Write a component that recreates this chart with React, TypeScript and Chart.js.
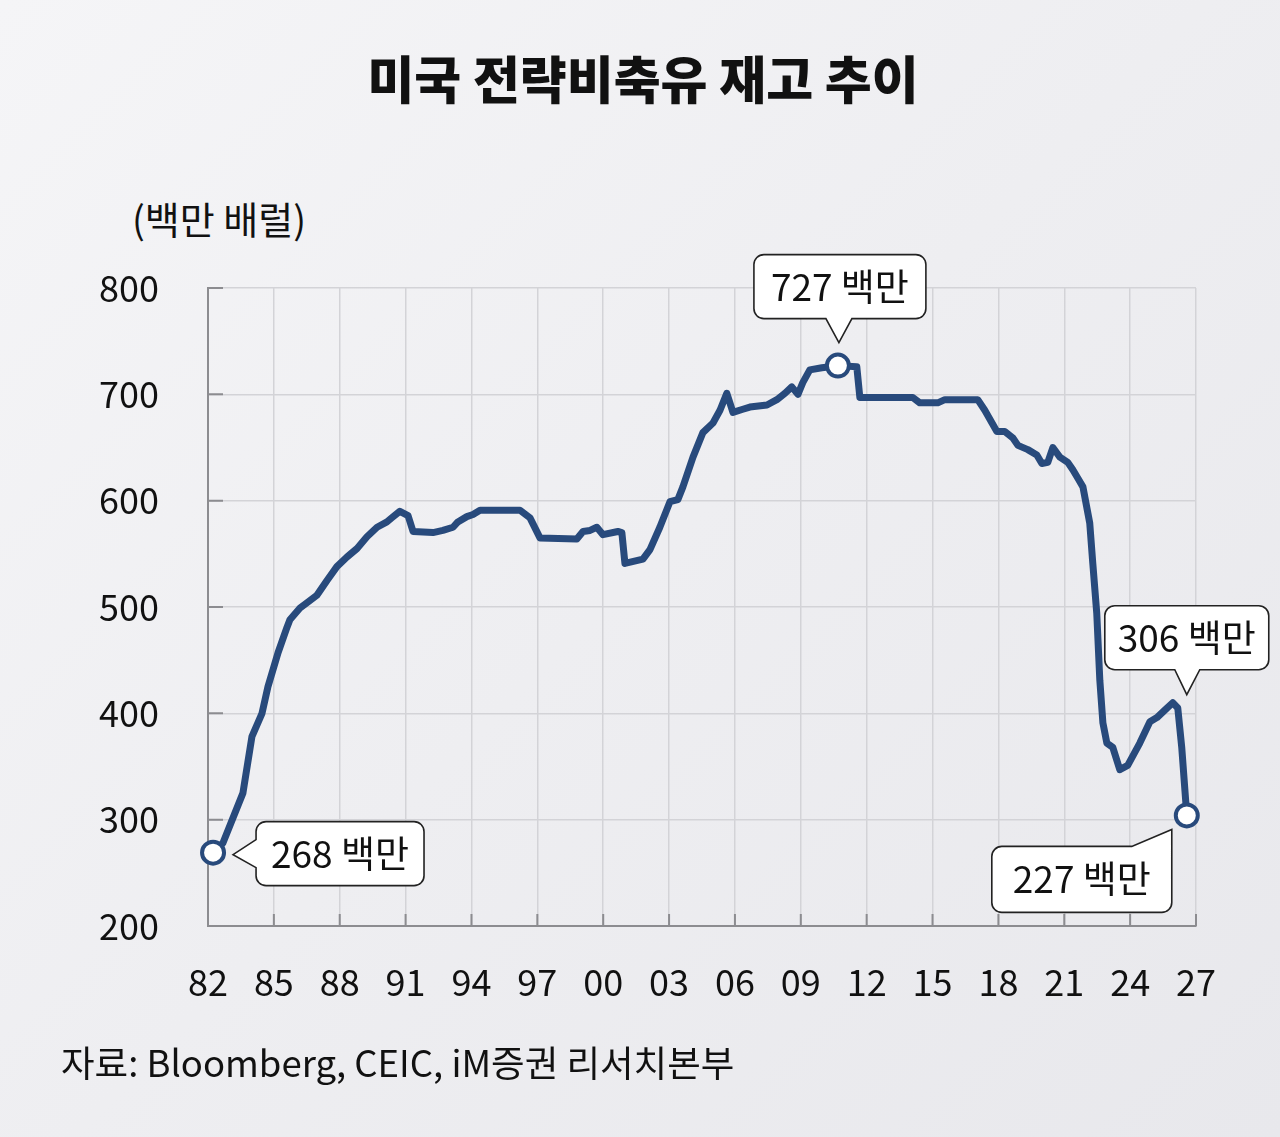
import React, { useEffect, useRef } from 'react';
import { Chart, registerables } from 'chart.js';

Chart.register(...registerables);

const FONT = "'Noto Sans CJK KR', 'Noto Sans', sans-serif";

// decimal year of each reading
const years = [
  1982.23, 1982.68, 1983.59, 1984.0, 1984.46, 1984.73, 1984.96, 1985.19, 1985.6, 1985.73,
  1986.19, 1986.51, 1986.96, 1987.42, 1987.87, 1988.33, 1988.79, 1989.24, 1989.7, 1990.15,
  1990.38, 1990.74, 1991.11, 1991.34, 1992.25, 1992.7, 1993.16, 1993.38, 1993.79, 1994.07,
  1994.39, 1996.21, 1996.66, 1997.12, 1998.8, 1999.08, 1999.4, 1999.71, 1999.99, 2000.67,
  2000.85, 2000.99, 2001.81, 2002.13, 2002.58, 2003.04, 2003.4, 2003.63, 2004.09, 2004.54,
  2005.0, 2005.32, 2005.63, 2005.91, 2006.36, 2006.68, 2007.46, 2007.91, 2008.28, 2008.59,
  2008.87, 2009.09, 2009.41, 2009.96, 2010.32, 2010.69, 2011.55, 2011.69, 2014.1, 2014.42,
  2015.24, 2015.56, 2017.06, 2017.38, 2017.93, 2018.29, 2018.66, 2018.89, 2019.34, 2019.75,
  2019.98, 2020.25, 2020.48, 2020.8, 2021.16, 2021.39, 2021.62, 2021.85, 2022.16, 2022.3,
  2022.48, 2022.62, 2022.76, 2022.94, 2023.21, 2023.53, 2023.89, 2024.44, 2024.9, 2025.22,
  2025.58, 2025.94, 2026.17, 2026.35, 2026.58,
];

// SPR stock, million barrels
const stock = [
  269, 278, 325, 378, 400, 425, 441, 457, 481, 488,
  499, 504, 511, 525, 538, 547, 555, 566, 575, 580,
  584, 590, 586, 571, 570, 572, 575, 580, 585, 587,
  591, 591, 584, 565, 564, 571, 572, 575, 568, 571,
  570, 541, 545, 554, 575, 599, 601, 613, 641, 664,
  673, 685, 701, 683, 686, 688, 690, 695, 701, 707,
  700, 711, 723, 725, 726, 727, 726, 697, 697, 692,
  692, 695, 695, 685, 665, 665, 659, 652, 648, 643,
  635, 636, 650, 641, 636, 629, 621, 613, 579, 541,
  494, 431, 391, 372, 368, 347, 351, 372, 392, 396,
  403, 410, 405, 368, 304,
];

const yTicks = [200, 300, 400, 500, 600, 700, 800];
const xTickYears = [1982, 1985, 1988, 1991, 1994, 1997, 2000, 2003, 2006, 2009, 2012, 2015, 2018, 2021, 2024, 2027];
const xTickLabels = ['82', '85', '88', '91', '94', '97', '00', '03', '06', '09', '12', '15', '18', '21', '24', '27'];

const calloutTexts = ['268 백만', '727 백만', '306 백만', '227 백만'];

const titleText = '미국 전략비축유 재고 추이';
const unitText = '(백만 배럴)';
const sourceText = '자료: Bloomberg, CEIC, iM증권 리서치본부';

const LINE = '#284a7c';

type P = [number, number, number];
function roundPoly(ctx: CanvasRenderingContext2D, pts: P[]) {
  const n = pts.length;
  const a = pts[n - 1];
  const b = pts[0];
  ctx.beginPath();
  ctx.moveTo((a[0] + b[0]) / 2, (a[1] + b[1]) / 2);
  for (let i = 0; i < n; i++) {
    const p = pts[i];
    const q = pts[(i + 1) % n];
    ctx.arcTo(p[0], p[1], q[0], q[1], p[2]);
  }
  ctx.closePath();
}

export default function App() {
  const ref = useRef<HTMLCanvasElement>(null);

  useEffect(() => {
    document.body.style.margin = '0';
    const iStart = 0;
    const iPeak = stock.indexOf(Math.max(...stock));
    const iEnd = stock.length - 1;
    let iLocal = iEnd;
    for (let i = 0; i < stock.length; i++) {
      if (years[i] >= 2024 && (iLocal === iEnd || stock[i] > stock[iLocal])) iLocal = i;
    }
    const markers = [iStart, iPeak, iEnd];

    const innerTicks = {
      id: 'innerTicks',
      beforeDatasetsDraw(chart: any) {
        const { ctx, chartArea, scales } = chart;
        ctx.save();
        ctx.strokeStyle = '#8c8c90';
        ctx.lineWidth = 2;
        ctx.beginPath();
        yTicks.forEach((v) => {
          const y = scales.y.getPixelForValue(v);
          ctx.moveTo(chartArea.left, y);
          ctx.lineTo(chartArea.left + 15, y);
        });
        xTickYears.forEach((v) => {
          const x = scales.x.getPixelForValue(v);
          ctx.moveTo(x, chartArea.bottom);
          ctx.lineTo(x, chartArea.bottom - 12);
        });
        ctx.stroke();
        ctx.restore();
      },
    };

    const callouts = {
      id: 'callouts',
      afterDatasetsDraw(chart: any) {
        const { ctx, scales } = chart;
        const px = (i: number) => scales.x.getPixelForValue(years[i]);
        const py = (i: number) => scales.y.getPixelForValue(stock[i]);
        ctx.save();
        ctx.font = `37px ${FONT}`;
        const H = 64;
        const R = 10;
        const draw = (pts: P[], cx: number, cy: number, text: string) => {
          roundPoly(ctx, pts);
          ctx.fillStyle = '#ffffff';
          ctx.fill();
          ctx.strokeStyle = '#222222';
          ctx.lineWidth = 1.6;
          ctx.stroke();
          ctx.fillStyle = '#111111';
          ctx.textAlign = 'center';
          ctx.textBaseline = 'middle';
          ctx.fillText(text, cx, cy);
        };
        // 1: start, pointer left
        {
          const x0 = px(iStart), y0 = py(iStart);
          const w = ctx.measureText(calloutTexts[0]).width + 30;
          const L = x0 + 43, T = y0 - 31, Rr = L + w, B = T + H;
          draw([[L, T, R], [Rr, T, R], [Rr, B, R], [L, B, R], [L, y0 + 15, 0], [x0 + 20, y0 + 2, 0], [L, y0 - 13, 0]], (L + Rr) / 2, (T + B) / 2, calloutTexts[0]);
        }
        // 2: peak, pointer bottom
        {
          const x0 = px(iPeak), y0 = py(iPeak);
          const w = ctx.measureText(calloutTexts[1]).width + 34;
          const cx = x0 + 2;
          const L = cx - w / 2, Rr = cx + w / 2, B = y0 - 47, T = B - H;
          draw([[L, T, R], [Rr, T, R], [Rr, B, R], [x0 + 14, B, 0], [x0 + 1, y0 - 23, 0], [x0 - 12, B, 0], [L, B, R]], cx, (T + B) / 2, calloutTexts[1]);
        }
        // 3: local high, pointer bottom
        {
          const x0 = px(iEnd), y0 = py(iLocal);
          const w = ctx.measureText(calloutTexts[2]).width + 26;
          const cx = x0;
          const L = cx - w / 2, Rr = cx + w / 2, B = y0 - 33, T = B - H;
          draw([[L, T, R], [Rr, T, R], [Rr, B, R], [cx + 13, B, 0], [cx, y0 - 8, 0], [cx - 12, B, 0], [L, B, R]], cx, (T + B) / 2, calloutTexts[2]);
        }
        // 4: end, pointer top-right
        {
          const x0 = px(iEnd), y0 = py(iEnd);
          const w = ctx.measureText(calloutTexts[3]).width + 42;
          const Rr = x0 - 15, L = Rr - w, T = y0 + 31, B = T + H + 2;
          draw([[L, T, R], [Rr - 40, T, 0], [Rr, y0 + 14, 0], [Rr, B, R], [L, B, R]], (L + Rr) / 2, (T + B) / 2, calloutTexts[3]);
        }
        ctx.restore();
      },
    };

    const chart = new Chart(ref.current as HTMLCanvasElement, {
      type: 'line',
      data: {
        datasets: [
          {
            data: years.map((x, i) => ({ x, y: stock[i] })),
            borderColor: LINE,
            borderWidth: 7,
            tension: 0,
            borderJoinStyle: 'round',
            borderCapStyle: 'round',
            pointRadius: (c: any) => (markers.includes(c.dataIndex) ? 11 : 0),
            pointHoverRadius: (c: any) => (markers.includes(c.dataIndex) ? 11 : 0),
            pointBackgroundColor: '#ffffff',
            pointBorderColor: LINE,
            pointBorderWidth: 4,
            clip: 20,
          } as any,
        ],
      },
      options: {
        animation: false,
        responsive: false,
        devicePixelRatio: 1,
        events: [],
        layout: { padding: { top: 288, right: 84, left: 0, bottom: 0 } },
        plugins: { legend: { display: false }, tooltip: { enabled: false }, title: { display: false } },
        scales: {
          x: {
            type: 'linear',
            min: 1982,
            max: 2027,
            afterBuildTicks: (s: any) => {
              s.ticks = xTickYears.map((v) => ({ value: v }));
            },
            afterFit: (s: any) => {
              s.height = 211;
            },
            ticks: {
              autoSkip: false,
              maxRotation: 0,
              padding: 35,
              color: '#111111',
              font: { family: FONT, size: 36 },
              callback: (v: any) => xTickLabels[xTickYears.indexOf(v)] ?? '',
            },
            grid: { color: '#d3d3d7', lineWidth: 1.5, drawTicks: false },
            border: { display: true, color: '#8c8c90', width: 2 },
          },
          y: {
            type: 'linear',
            min: 200,
            max: 800,
            afterBuildTicks: (s: any) => {
              s.ticks = yTicks.map((v) => ({ value: v }));
            },
            afterFit: (s: any) => {
              s.width = 208;
            },
            ticks: {
              padding: 49,
              color: '#111111',
              font: { family: FONT, size: 36 },
              callback: (v: any) => String(v),
            },
            grid: { color: '#d3d3d7', lineWidth: 1.5, drawTicks: false },
            border: { display: true, color: '#8c8c90', width: 2 },
          },
        },
      },
      plugins: [innerTicks, callouts],
    });
    return () => chart.destroy();
  }, []);

  return (
    <div
      style={{
        position: 'absolute',
        left: 0,
        top: 0,
        width: 1280,
        height: 1137,
        overflow: 'hidden',
        background: 'linear-gradient(135deg, #f5f5f7 0%, #eeeef1 50%, #e8e8ec 100%)',
        fontFamily: FONT,
        color: '#111111',
      }}
    >
      <div
        style={{
          position: 'absolute',
          left: 0,
          width: 1286,
          top: 47,
          textAlign: 'center',
          fontSize: 51,
          lineHeight: '60px',
          fontWeight: 900,
        }}
      >
        {titleText}
      </div>
      <div style={{ position: 'absolute', left: 132, top: 195, fontSize: 38, lineHeight: '46px' }}>{unitText}</div>
      <canvas ref={ref} width={1280} height={1137} style={{ position: 'absolute', left: 0, top: 0 }} />
      <div style={{ position: 'absolute', left: 61, top: 1039, fontSize: 36.5, lineHeight: '46px' }}>{sourceText}</div>
    </div>
  );
}
